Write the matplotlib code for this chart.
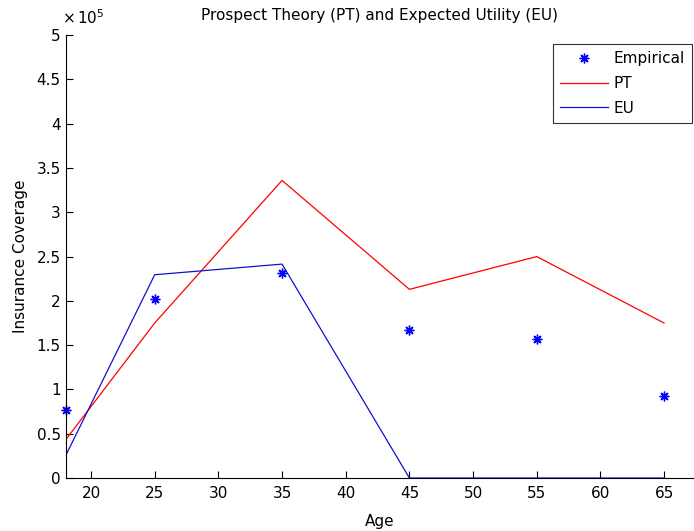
import matplotlib
matplotlib.use("Agg")
import matplotlib.pyplot as plt
from matplotlib.ticker import FuncFormatter

plt.rcParams['font.family'] = ['DejaVu Sans']

ages = [18, 25, 35, 45, 55, 65]
empirical = [76400, 202000, 232000, 167000, 156500, 93000]
pt = [43000, 175000, 336000, 213000, 250000, 175000]
eu = [25000, 229500, 241500, 0, 0, 0]

fs = 11

fig = plt.figure(figsize=(6.94, 5.31), dpi=100)
ax = fig.add_axes([0.0945, 0.0998, 0.9055, 0.834])

ax.plot(ages, empirical, linestyle='none', marker=(8, 2, 0), markersize=7,
        markeredgewidth=1.0, color='blue', label='Empirical', clip_on=False)
ax.plot(ages, pt, color='red', linewidth=0.9, label='PT')
ax.plot(ages, eu, color='#1010d0', linewidth=0.9, label='EU')

ax.set_xlim(18, 67.35)
ax.set_ylim(0, 500000)
ax.set_xticks([20, 25, 30, 35, 40, 45, 50, 55, 60, 65])
ax.set_yticks([i * 50000 for i in range(11)])
ax.yaxis.set_major_formatter(FuncFormatter(lambda v, p: f"{v / 1e5:g}"))

ax.spines['top'].set_visible(False)
ax.spines['right'].set_visible(False)
ax.tick_params(direction='in', length=5, labelsize=fs, width=0.8)
ax.tick_params(axis='x', pad=6)

ax.set_xlabel('Age', fontsize=fs, labelpad=9)
ax.set_ylabel('Insurance Coverage', fontsize=fs, labelpad=6)
ax.set_title('Prospect Theory (PT) and Expected Utility (EU)', fontsize=fs, pad=11)

fig.text(0.090, 0.950, r'$\times\,10^{5}$', fontsize=fs, ha='left', va='bottom')

leg = ax.legend(loc='upper right', bbox_to_anchor=(0.997, 0.917),
                bbox_transform=fig.transFigure, fontsize=fs,
                frameon=True, fancybox=False, edgecolor='black',
                borderaxespad=0, handlelength=3.2, handletextpad=0.35,
                labelspacing=0.65, borderpad=0.45)
leg.get_frame().set_linewidth(0.8)

fig.savefig('out.png', dpi=100)
